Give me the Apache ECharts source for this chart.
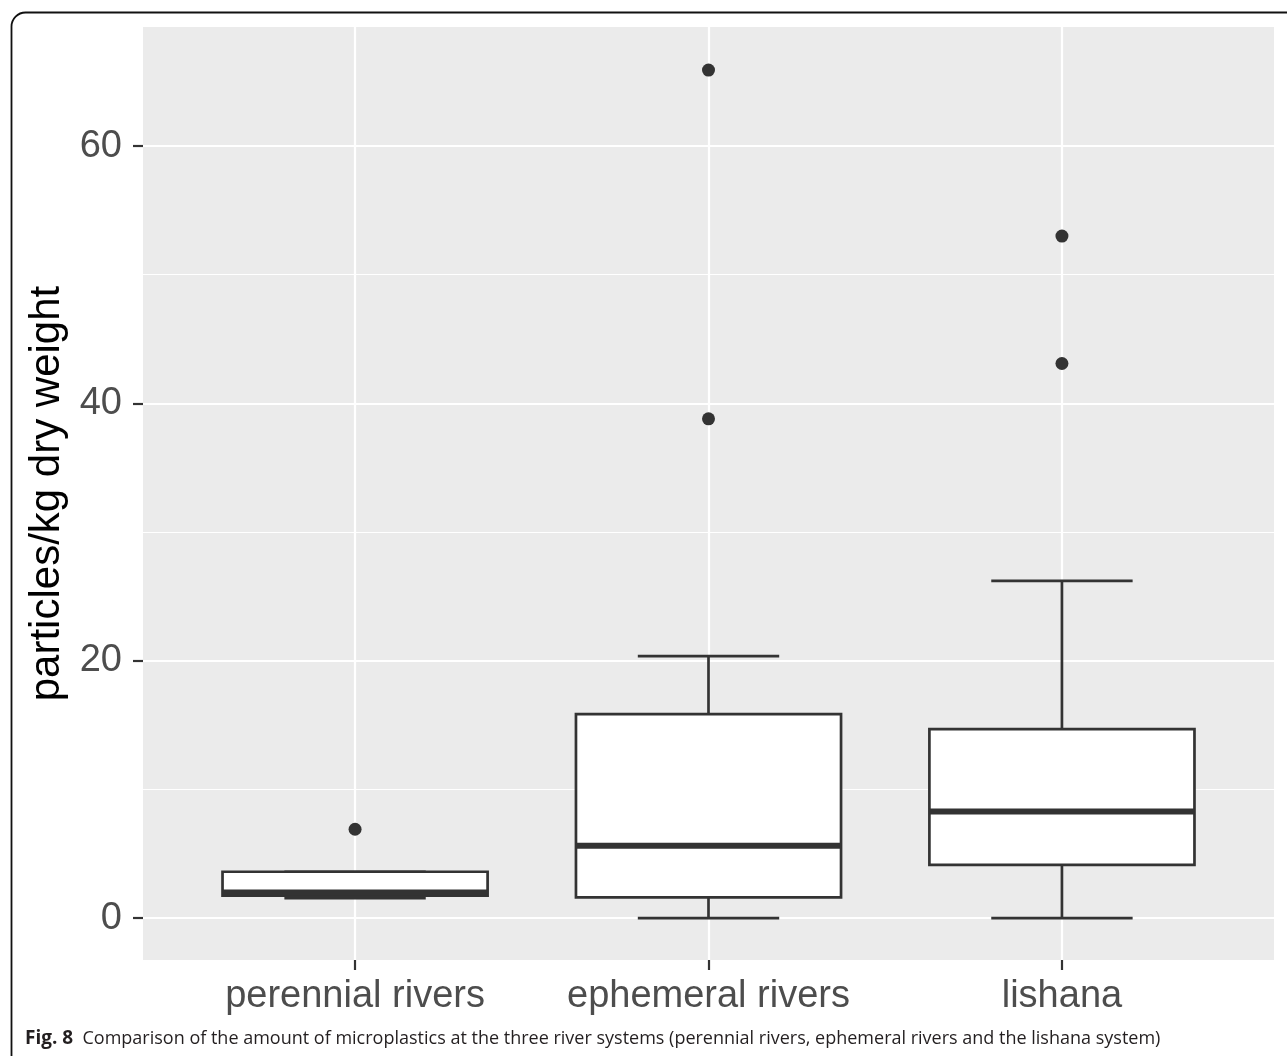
<!DOCTYPE html>
<html>
<head>
<meta charset="utf-8">
<script src="https://cdn.jsdelivr.net/npm/echarts@6/dist/echarts.min.js"></script>
<style>
  html, body {margin: 0; padding: 0; background: #fff;}
  #chart {width: 1287px; height: 1056px;}
</style>
</head>
<body>
<div id="chart"></div>
<script>
// river systems on the x axis
const categories = ['perennial rivers', 'ephemeral rivers', 'lishana']
// box statistics (particles/kg dry weight)
const lowerWhisker = [1.55, 0, 0]
const q1 = [1.75, 1.6, 4.14]
const median = [1.98, 5.61, 8.29]
const q3 = [3.6, 15.85, 14.69]
const upperWhisker = [3.6, 20.35, 26.2]
// outlying samples per category
const outliers = [[6.9], [38.8, 65.9], [43.1, 53.0]]
const majorTicks = [0, 20, 40, 60]
const minorTicks = [10, 30, 50]

const BOX_W = 0.75, CAP_W = 0.4, INK = '#333333', LABEL = '#4d4d4d'

const boxData = categories.map((c, i) => [i, lowerWhisker[i], q1[i], median[i], q3[i], upperWhisker[i]])
const outlierData = []
outliers.forEach((list, i) => list.forEach(v => outlierData.push([i, v])))

function renderBox(params, api) {
  const x = api.value(0)
  const lo = api.coord([x, api.value(1)]), b1 = api.coord([x, api.value(2)])
    , md = api.coord([x, api.value(3)]), b3 = api.coord([x, api.value(4)]), hi = api.coord([x, api.value(5)])
  const half = api.size([BOX_W, 0])[0] / 2, capHalf = api.size([CAP_W, 0])[0] / 2
  const line = {stroke: INK, lineWidth: 2.7}
  return {
    type: 'group',
    children: [
      {type: 'line', shape: {x1: lo[0], y1: lo[1], x2: b1[0], y2: b1[1]}, style: line},
      {type: 'line', shape: {x1: b3[0], y1: b3[1], x2: hi[0], y2: hi[1]}, style: line},
      {type: 'line', shape: {x1: lo[0] - capHalf, y1: lo[1], x2: lo[0] + capHalf, y2: lo[1]}, style: line},
      {type: 'line', shape: {x1: hi[0] - capHalf, y1: hi[1], x2: hi[0] + capHalf, y2: hi[1]}, style: line},
      {type: 'rect', shape: {x: b3[0] - half, y: b3[1], width: half * 2, height: b1[1] - b3[1]},
        style: {fill: '#fff', stroke: INK, lineWidth: 2.7}},
      {type: 'line', shape: {x1: md[0] - half, y1: md[1], x2: md[0] + half, y2: md[1]}, style: {stroke: INK, lineWidth: 6}},
    ],
  }
}

const chart = echarts.init(document.getElementById('chart'))
chart.setOption({
  animation: false,
  backgroundColor: '#fff',
  grid: {left: 143, right: 13, top: 27, bottom: 96, show: true, backgroundColor: '#ebebeb', borderWidth: 0},
  xAxis: {
    type: 'value', min: -0.6, max: 2.6,
    axisLine: {show: false, onZero: false},
    axisTick: {show: true, length: 10, customValues: [0, 1, 2], lineStyle: {color: INK, width: 2.2}},
    axisLabel: {customValues: [0, 1, 2], formatter: v => categories[Math.round(v)], color: LABEL,
      fontSize: 38, fontFamily: 'Liberation Sans', margin: 18},
    splitLine: {show: true, lineStyle: {color: '#fff', width: 2.2}},
  },
  yAxis: [{
    type: 'value', min: -3.26, max: 69.25,
    name: 'particles/kg dry weight', nameLocation: 'middle', nameRotate: 90, nameGap: 47,
    nameTextStyle: {color: '#000', fontSize: 42, fontFamily: 'Liberation Sans'},
    axisLine: {show: false, onZero: false},
    axisTick: {show: true, length: 10, customValues: majorTicks, lineStyle: {color: INK, width: 2.2}},
    axisLabel: {customValues: majorTicks, color: LABEL, fontSize: 38, fontFamily: 'Liberation Sans', margin: 21},
    splitLine: {show: true, lineStyle: {color: '#fff', width: 2.2}},
  }, {
    type: 'value', min: -3.26, max: 69.25, position: 'left',
    axisLine: {show: false, onZero: false},
    axisTick: {show: false, customValues: minorTicks},
    axisLabel: {show: false, customValues: minorTicks},
    splitLine: {show: true, lineStyle: {color: '#fff', width: 1.1}},
  }],
  series: [{
    type: 'custom', renderItem: renderBox, data: boxData, z: 3,
    encode: {x: 0, y: [1, 2, 3, 4, 5]},
  }, {
    type: 'scatter', data: outlierData, symbolSize: 13, z: 4,
    itemStyle: {color: INK, opacity: 1},
  }],
  graphic: [{
    type: 'rect', left: 9, top: 10, z: -1,
    shape: {width: 1400, height: 1200, r: 14},
    style: {fill: 'none', stroke: '#111', lineWidth: 1.8},
  }, {
    type: 'text', left: 25, top: 1029,
    style: {
      text: '{b|Fig. 8}  Comparison of the amount of microplastics at the three river systems (perennial rivers, ephemeral rivers and the lishana system)',
      fontFamily: 'Open Sans', fontSize: 18, fill: '#231f20',
      rich: {b: {fontWeight: 'bold', fontFamily: 'Open Sans', fontSize: 19, fill: '#231f20'}},
    },
  }],
})
</script>
</body>
</html>
